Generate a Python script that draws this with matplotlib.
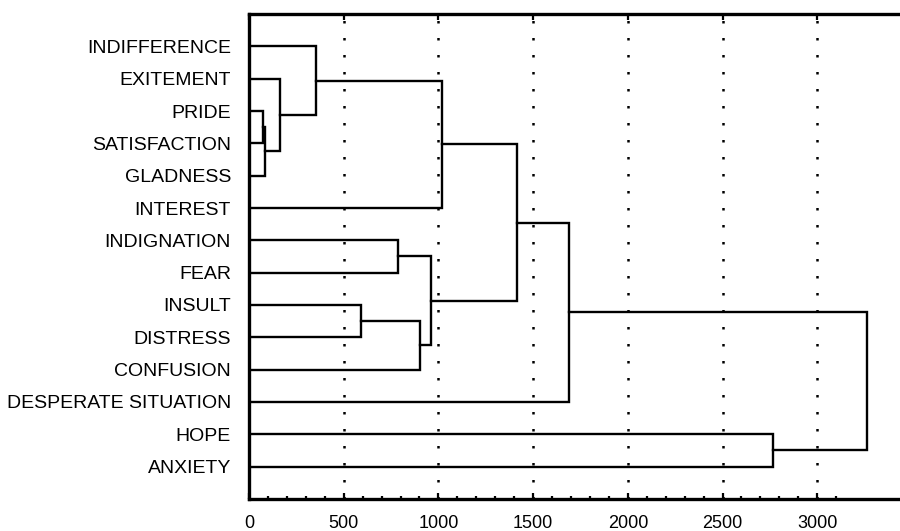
import numpy as np
import matplotlib
matplotlib.use('Agg')
import matplotlib.pyplot as plt
import matplotlib.ticker as ticker

plt.rcParams['font.family'] = ['Liberation Sans', 'DejaVu Sans']

# leaves, top to bottom
labels = ['INDIFFERENCE', 'EXITEMENT', 'PRIDE', 'SATISFACTION', 'GLADNESS',
          'INTEREST', 'INDIGNATION', 'FEAR', 'INSULT', 'DISTRESS',
          'CONFUSION', 'DESPERATE SITUATION', 'HOPE', 'ANXIETY']

# merges: (child a, child b, linkage distance); new clusters numbered from 14
merge_a = [2, 14, 1, 0, 8, 6, 18, 19, 17, 22, 23, 12, 24]
merge_b = [3, 4, 15, 16, 9, 7, 10, 20, 5, 21, 11, 13, 25]
merge_h = [75, 84, 164, 352, 591, 785, 903, 961, 1021, 1413, 1692, 2765, 3263]

major_ticks = [0, 500, 1000, 1500, 2000, 2500, 3000]
minor_ticks = list(range(0, 3200, 100))

#%%
fig = plt.figure(figsize=(9, 5.31), dpi=100)
ax = fig.add_axes([0.2767, 0.0603, 0.7233, 0.9133])

n = len(labels)
ypos = {i: i + 1 for i in range(n)}
hpos = {i: 0.0 for i in range(n)}

for k, (a, b, h) in enumerate(zip(merge_a, merge_b, merge_h)):
    ax.plot([hpos[a], h, h, hpos[b]], [ypos[a], ypos[a], ypos[b], ypos[b]],
            color='black', lw=1.7, solid_joinstyle='miter', zorder=3)
    ypos[n + k] = (ypos[a] + ypos[b]) / 2
    hpos[n + k] = h

# dotted grid at the major ticks
for x in major_ticks[1:]:
    ax.axvline(x, color='black', lw=1.8, linestyle=(0, (1, 5.8)),
               dash_capstyle='butt', zorder=1)

ax.set_xlim(0, 3437)
ax.set_ylim(n + 1, 0)
ax.set_yticks(range(1, n + 1))
ax.set_yticklabels(labels, fontsize=14)
ax.tick_params(axis='y', length=0, pad=13)

ax.xaxis.set_major_locator(ticker.FixedLocator(major_ticks))
ax.xaxis.set_minor_locator(ticker.FixedLocator(minor_ticks))
ax.tick_params(axis='x', which='major', direction='in', length=4, width=1.6,
               top=True, labelsize=13, pad=11.5)
ax.tick_params(axis='x', which='minor', direction='in', length=2.5, width=1.6)

for s in ['left', 'bottom', 'top']:
    ax.spines[s].set_linewidth(2.4)
ax.spines['right'].set_visible(False)

plt.savefig('out.png', dpi=100)
